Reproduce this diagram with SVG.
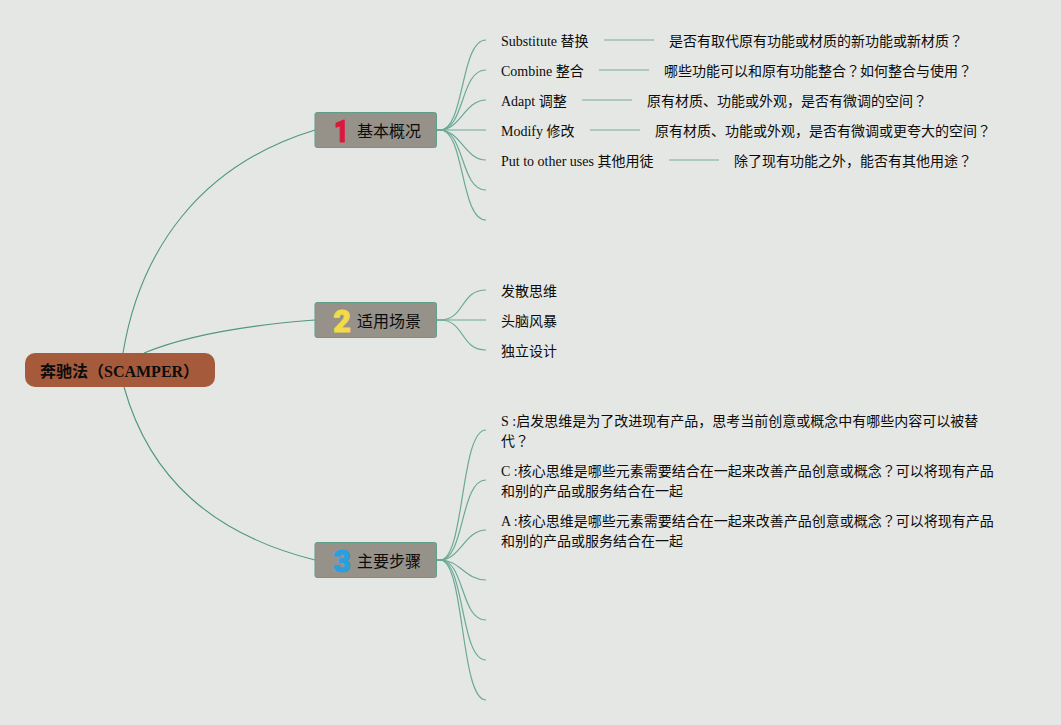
<svg xmlns="http://www.w3.org/2000/svg" width="1061" height="725" viewBox="0 0 1061 725">
<style>
.c{fill:none;stroke:#4f9681;stroke-width:1.1}
.t{fill:none;stroke:#6aa997;stroke-width:1.2}
.s{fill:none;stroke:#9dc0b3;stroke-width:1.4}
.leaf{font:14px "Liberation Serif","Noto Sans CJK SC",serif;fill:#0c0c0c}
.q{font-family:"Noto Sans CJK TC",sans-serif}
.topic{font:16px "Liberation Serif","Noto Sans CJK SC",serif;fill:#0c0c0c}
.box{fill:#96928a;stroke:#5f9f8a;stroke-width:1}
.num{font:900 32px "Roboto",sans-serif;text-anchor:middle;stroke-width:1;stroke-linejoin:round}
</style>
<rect width="1061" height="725" fill="#e4e7e4"/>
<g id="connectors">
<path class="c" d="M123 353C140 250 200 165 315 130"/>
<path class="c" d="M144 353C190 334 250 325 315 320"/>
<path class="c" d="M124 387C150 480 215 535 315 560"/>
<g id="c1">
<path class="t" d="M437 130H440C465 130 460 40 486 40"/>
<path class="t" d="M437 130H440C465 130 460 70 486 70"/>
<path class="t" d="M437 130H440C460 130 465 100 486 100"/>
<path class="t" d="M437 130H486"/>
<path class="t" d="M437 130H440C460 130 465 160 486 160"/>
<path class="t" d="M437 130H440C465 130 460 190 486 190"/>
<path class="t" d="M437 130H440C465 130 460 220 486 220"/>
<path class="s" d="M604 40H654"/>
<path class="s" d="M599 70H649"/>
<path class="s" d="M582 100H632"/>
<path class="s" d="M590 130H640"/>
<path class="s" d="M669 160H719"/>
</g>
<g id="c2">
<path class="t" d="M437 320H440C465 320 460 290 486 290"/>
<path class="t" d="M437 320H486"/>
<path class="t" d="M437 320H440C465 320 460 350 486 350"/>
</g>
<g id="c3">
<path class="t" d="M437 560H440C465 560 460 430 486 430"/>
<path class="t" d="M437 560H440C465 560 460 480 486 480"/>
<path class="t" d="M437 560H440C460 560 465 530 486 530"/>
<path class="t" d="M437 560H440C460 560 465 580 486 580"/>
<path class="t" d="M437 560H440C465 560 460 620 486 620"/>
<path class="t" d="M437 560H440C465 560 460 660 486 660"/>
<path class="t" d="M437 560H440C465 560 460 700 486 700"/>
</g>
</g>
<g id="root"><rect x="25" y="353" width="190" height="34" rx="10" fill="#a65a3c"/><text x="40" y="377" style="font:bold 16px 'Liberation Serif','Noto Sans CJK SC',serif" fill="#0c0c0c">奔驰法（SCAMPER）</text></g>
<g id="topic1"><rect class="box" x="315" y="112.500" width="121.500" height="35" rx="2"/><text class="num" transform="translate(341.500 141.500) scale(.8 1)" fill="#d9183a" stroke="#d9183a">1</text><text class="topic" x="357" y="137">基本概况</text></g>
<g id="topic2"><rect class="box" x="315" y="302.500" width="121.500" height="35" rx="2"/><text class="num" transform="translate(342 332) scale(.95 1)" fill="#f2da4a" stroke="#f2da4a">2</text><text class="topic" x="357" y="327">适用场景</text></g>
<g id="topic3"><rect class="box" x="315" y="542.500" width="121.500" height="35" rx="2"/><text class="num" transform="translate(342 572) scale(.95 1)" fill="#2a9fe0" stroke="#2a9fe0">3</text><text class="topic" x="357" y="567">主要步骤</text></g>
<g id="leaves1">
<text class="leaf" x="501" y="46">Substitute 替换</text><text class="leaf" x="669" y="46">是否有取代原有功能或材质的新功能或新材质<tspan class="q">？</tspan></text>
<text class="leaf" x="501" y="76">Combine 整合</text><text class="leaf" x="664" y="76">哪些功能可以和原有功能整合<tspan class="q">？</tspan>如何整合与使用<tspan class="q">？</tspan></text>
<text class="leaf" x="501" y="106">Adapt 调整</text><text class="leaf" x="647" y="106">原有材质、功能或外观，是否有微调的空间<tspan class="q">？</tspan></text>
<text class="leaf" x="501" y="136">Modify 修改</text><text class="leaf" x="655" y="136">原有材质、功能或外观，是否有微调或更夸大的空间<tspan class="q">？</tspan></text>
<text class="leaf" x="501" y="166">Put to other uses 其他用徒</text><text class="leaf" x="734" y="166">除了现有功能之外，能否有其他用途<tspan class="q">？</tspan></text>
</g>
<g id="leaves2">
<text class="leaf" x="501" y="296">发散思维</text>
<text class="leaf" x="501" y="326">头脑风暴</text>
<text class="leaf" x="501" y="356">独立设计</text>
</g>
<g id="leaves3">
<text class="leaf" x="501" y="426">S :启发思维是为了改进现有产品，思考当前创意或概念中有哪些内容可以被替</text>
<text class="leaf" x="501" y="446">代<tspan class="q">？</tspan></text>
<text class="leaf" x="501" y="476">C :核心思维是哪些元素需要结合在一起来改善产品创意或概念<tspan class="q">？</tspan>可以将现有产品</text>
<text class="leaf" x="501" y="496">和别的产品或服务结合在一起</text>
<text class="leaf" x="501" y="526">A :核心思维是哪些元素需要结合在一起来改善产品创意或概念<tspan class="q">？</tspan>可以将现有产品</text>
<text class="leaf" x="501" y="546">和别的产品或服务结合在一起</text>
</g>
</svg>
